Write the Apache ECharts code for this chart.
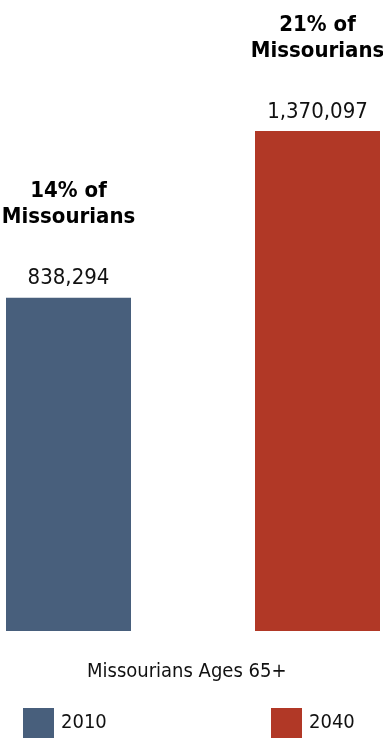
<!DOCTYPE html>
<html lang="EN">
<head>
    <meta charset="utf-8">
    <script src="https://cdn.jsdelivr.net/npm/echarts@6/dist/echarts.min.js"></script>
</head>
<body>
<style>
    body {
        background: #fff;
        margin: 0;
    }
    #main {
        width: 383px;
        height: 738px;
    }
</style>

<div id="main"></div>

<script>
    var years = ['2010', '2040'];
    var shares = [14, 21];              // percent of Missourians, drives bar height
    var people = [838294, 1370097];     // label values
    var colors = ['#485f7c', '#b13826'];

    var font = '"DejaVu Sans Condensed", "Liberation Sans Narrow", sans-serif';

    function fmt(n) {
        return String(n).replace(/\B(?=(\d{3})+(?!\d))/g, ',');
    }

    var series = years.map(function (y, i) {
        return {
            name: y,
            type: 'bar',
            barWidth: 125,
            barGap: '99.2%',
            itemStyle: { color: colors[i] },
            data: [shares[i]],
            label: {
                show: true,
                position: 'top',
                distance: 6,
                align: 'center',
                formatter: '{b|' + shares[i] + '% of}\n{b|Missourians}\n{s| }\n{v|' + fmt(people[i]) + '}',
                rich: {
                    b: { fontFamily: font, fontWeight: 'bold', fontSize: 22, lineHeight: 26, color: '#000' },
                    s: { fontSize: 10, lineHeight: 35 },
                    v: { fontFamily: font, fontSize: 22, lineHeight: 26, color: '#111' }
                }
            }
        };
    });

    var legendBase = {
        top: 708,
        padding: 0,
        itemWidth: 31,
        itemHeight: 30,
        icon: 'rect',
        textStyle: { fontFamily: font, fontSize: 20, color: '#111', padding: [0, 0, 0, 2] }
    };

    var chart = echarts.init(document.getElementById('main'));
    chart.setOption({
        animation: false,
        title: {
            text: 'Missourians Ages 65+',
            left: 87,
            top: 662,
            padding: 0,
            textStyle: { fontFamily: font, fontSize: 20, fontWeight: 'normal', color: '#111' }
        },
        legend: [
            Object.assign({ data: [years[0]], left: 23 }, legendBase),
            Object.assign({ data: [years[1]], left: 271 }, legendBase)
        ],
        grid: { left: 6, right: 3, top: 131, bottom: 107 },
        xAxis: {
            type: 'category',
            data: [''],
            axisLine: { show: false },
            axisTick: { show: false },
            axisLabel: { show: false }
        },
        yAxis: {
            type: 'value',
            min: 0,
            max: 21,
            show: false,
            splitLine: { show: false }
        },
        series: series
    });
</script>
</body>
</html>
